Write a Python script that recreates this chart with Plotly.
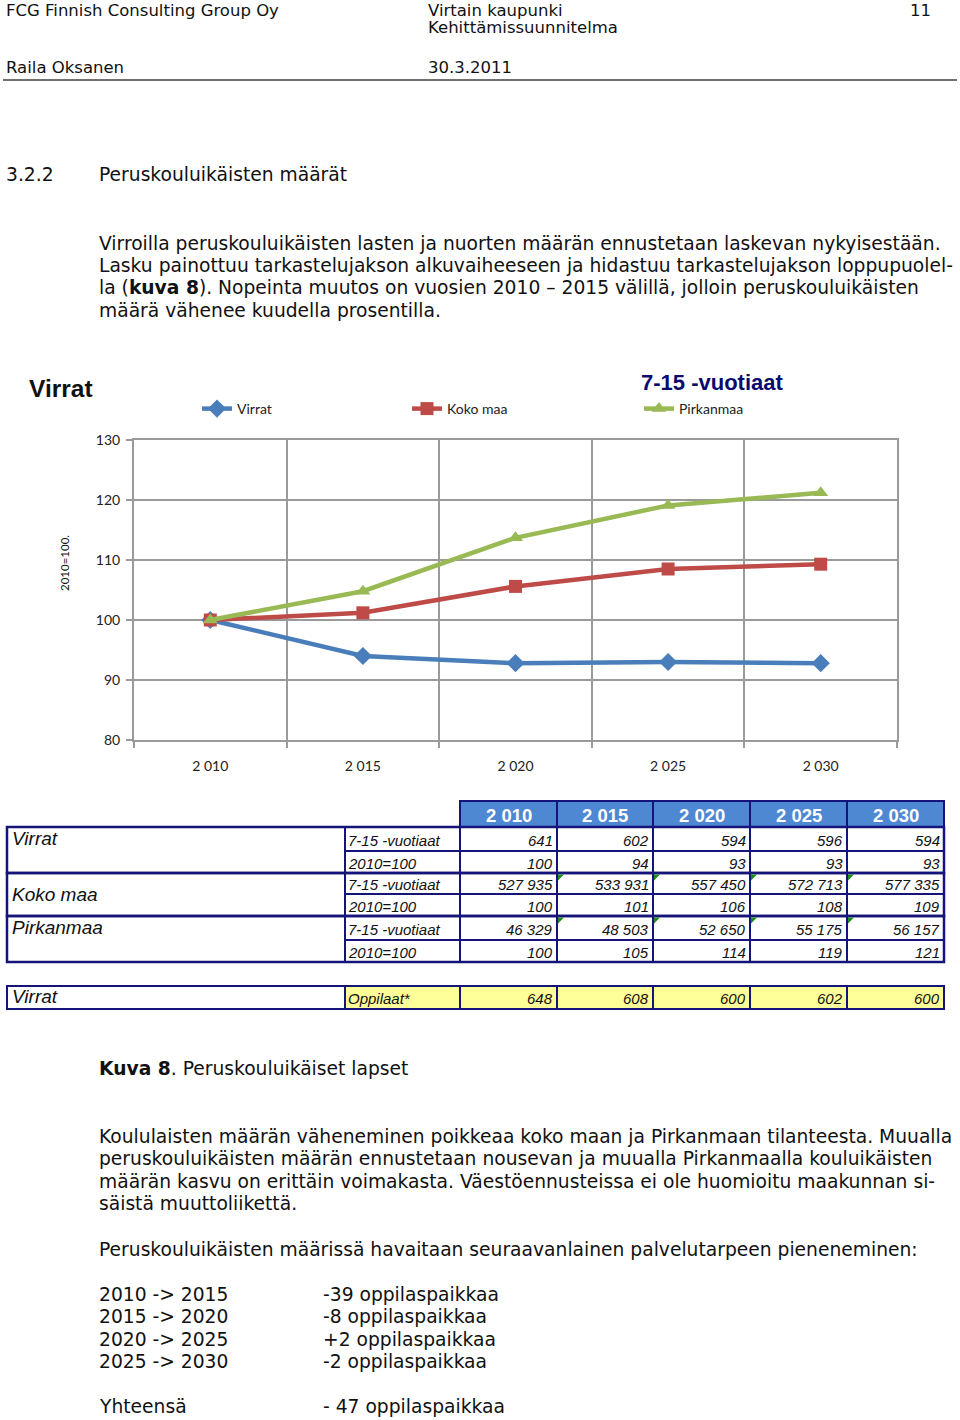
import plotly.graph_objects as go

W, H = 960, 1420


def X(p):
    return p / W


def Y(p):
    return 1 - p / H


# ---------------- data ----------------
years = ["2 010", "2 015", "2 020", "2 025", "2 030"]
series_names = ["Virrat", "Koko maa", "Pirkanmaa"]
idx_virrat = [100, 94.0, 92.8, 93.0, 92.8]
idx_koko = [100, 101.2, 105.6, 108.5, 109.3]
idx_pirk = [100, 104.8, 113.7, 119.1, 121.2]
y_ticks = [80, 90, 100, 110, 120, 130]

cnt_virrat = [641, 602, 594, 596, 594]
cnt_virrat_idx = [100, 94, 93, 93, 93]
cnt_koko = [527935, 533931, 557450, 572713, 577335]
cnt_koko_idx = [100, 101, 106, 108, 109]
cnt_pirk = [46329, 48503, 52650, 55175, 56157]
cnt_pirk_idx = [100, 105, 114, 119, 121]
oppilaat = [648, 608, 600, 602, 600]

periods = ["2010 -> 2015", "2015 -> 2020", "2020 -> 2025", "2025 -> 2030"]
changes = ["-39 oppilaspaikkaa", "-8 oppilaspaikkaa", "+2 oppilaspaikkaa", "-2 oppilaspaikkaa"]
total_label = "Yhteensä"
total_value = "- 47 oppilaspaikkaa"

# ---------------- styles ----------------
GRID = "#9a9a9a"
NAVY = "#14147a"
BLUE_HDR = "#4f88d2"
YELLOW = "#ffff99"
BODY = "DejaVu Sans"
CHART_FONT = "Lato"
TABLE_FONT = "Liberation Sans"
colors = ["#4a7ebb", "#be4b48", "#98b954"]
symbols = ["diamond", "square", "triangle-up"]
legends = ["legend", "legend2", "legend3"]

fig = go.Figure()
xs = list(range(len(years)))
for name, vals, col, sym, leg in zip(series_names, [idx_virrat, idx_koko, idx_pirk], colors, symbols, legends):
    fig.add_trace(go.Scatter(
        x=xs, y=vals, name=name, mode="lines+markers",
        line=dict(color=col, width=4.5),
        marker=dict(symbol=sym, size=13 if sym != "diamond" else 14, color=col),
        legend=leg, hoverinfo="skip"))

annotations = []
shapes = []


def txt(x, y, s, size=18.7, family=BODY, color="#111", anchor="left", angle=0, italic=False):
    annotations.append(dict(
        x=X(x), y=Y(y), xref="paper", yref="paper", text=s, showarrow=False,
        xanchor=anchor, yanchor="middle", textangle=angle, borderpad=0,
        font=dict(family=family, size=size, color=color, style="italic" if italic else "normal")))


# header
HS = 16.5
txt(5, 11, "FCG Finnish Consulting Group Oy", HS)
txt(427, 11, "Virtain kaupunki", HS)
txt(427, 28, "Kehittämissuunnitelma", HS)
txt(909, 11, "11", HS)
txt(5, 67, "Raila Oksanen", HS)
txt(427, 67, "30.3.2011", HS)
shapes.append(dict(type="line", xref="paper", yref="paper", x0=X(3), x1=X(957), y0=Y(80), y1=Y(80),
                   line=dict(color="#707070", width=2)))

# body text
txt(5, 175, "3.2.2")
txt(98, 175, "Peruskouluikäisten määrät")
para1 = [
    "Virroilla peruskouluikäisten lasten ja nuorten määrän ennustetaan laskevan nykyisestään.",
    "Lasku painottuu tarkastelujakson alkuvaiheeseen ja hidastuu tarkastelujakson loppupuolel-",
    "la (<b>kuva 8</b>). Nopeinta muutos on vuosien 2010 – 2015 välillä, jolloin peruskouluikäisten",
    "määrä vähenee kuudella prosentilla.",
]
for i, line in enumerate(para1):
    txt(98, 243 + i * 22.5, line)

txt(98, 1068, "<b>Kuva 8</b>. Peruskouluikäiset lapset")
para2 = [
    "Koululaisten määrän väheneminen poikkeaa koko maan ja Pirkanmaan tilanteesta. Muualla",
    "peruskouluikäisten määrän ennustetaan nousevan ja muualla Pirkanmaalla kouluikäisten",
    "määrän kasvu on erittäin voimakasta. Väestöennusteissa ei ole huomioitu maakunnan si-",
    "säistä muuttoliikettä.",
]
for i, line in enumerate(para2):
    txt(98, 1136 + i * 22.5, line)
txt(98, 1249, "Peruskouluikäisten määrissä havaitaan seuraavanlainen palvelutarpeen pieneneminen:")
for i, (p, c) in enumerate(zip(periods, changes)):
    txt(98, 1294 + i * 22.5, p)
    txt(322, 1294 + i * 22.5, c)
txt(98, 1406, total_label)
txt(322, 1406, total_value)

# chart titles
txt(28, 388, "<b>Virrat</b>", 24.5, "Liberation Sans", "#111")
txt(640, 383, "<b>7-15 -vuotiaat</b>", 22, "Liberation Sans", "#0b0b6e")
txt(64, 563, "2010=100.", 11.5, CHART_FONT, "#111", anchor="center", angle=-90)

# ---------------- table ----------------
col_edges = [7, 345, 460, 557, 653, 750, 847, 944]
row_edges = [827, 851, 873, 894, 916, 940, 962]
hdr_top = 801
t2_top, t2_bot = 986, 1009


def fmt(v):
    return f"{v:,}".replace(",", " ")


def rect(x0, y0, x1, y1, fill="white", lw=2):
    shapes.append(dict(type="rect", xref="paper", yref="paper", x0=X(x0), x1=X(x1), y0=Y(y1), y1=Y(y0),
                       fillcolor=fill, line=dict(color=NAVY, width=lw), layer="below"))


# header row
for j, yr in enumerate(years):
    rect(col_edges[j + 2], hdr_top, col_edges[j + 3], row_edges[0], BLUE_HDR)
    txt((col_edges[j + 2] + col_edges[j + 3]) / 2, (hdr_top + row_edges[0]) / 2 + 1,
        "<b>" + yr + "</b>", 18.5, TABLE_FONT, "white", anchor="center")

groups = [
    ("Virrat", [("7-15 -vuotiaat", cnt_virrat), ("2010=100", cnt_virrat_idx)], "top"),
    ("Koko maa", [("7-15 -vuotiaat", cnt_koko), ("2010=100", cnt_koko_idx)], "middle"),
    ("Pirkanmaa", [("7-15 -vuotiaat", cnt_pirk), ("2010=100", cnt_pirk_idx)], "top"),
]
r = 0
for gname, rows, pos in groups:
    g0, g1 = row_edges[r], row_edges[r + len(rows)]
    rect(col_edges[0], g0, col_edges[1], g1)
    gy = (g0 + g1) / 2 if pos == "middle" else (row_edges[r] + row_edges[r + 1]) / 2 - 1
    txt(11, gy, gname, 19, TABLE_FONT, "#111", italic=True)
    for label, vals in rows:
        y0, y1 = row_edges[r], row_edges[r + 1]
        rect(col_edges[1], y0, col_edges[2], y1)
        txt(347, (y0 + y1) / 2 + 1, label, 15, TABLE_FONT, "#111", italic=True)
        for j, v in enumerate(vals):
            rect(col_edges[j + 2], y0, col_edges[j + 3], y1)
            txt(col_edges[j + 3] - 3, (y0 + y1) / 2 + 1, fmt(v), 15, TABLE_FONT, "#111",
                anchor="right", italic=True)
        r += 1

# outer thick borders around groups
for gi in (0, 2, 4):
    shapes.append(dict(type="rect", xref="paper", yref="paper", x0=X(col_edges[0]), x1=X(col_edges[-1]),
                       y0=Y(row_edges[gi + 2]), y1=Y(row_edges[gi]),
                       line=dict(color=NAVY, width=2.5), layer="below"))

# green comment markers
for ry in (row_edges[2], row_edges[4]):
    for cx in col_edges[3:7]:
        shapes.append(dict(type="path", xref="paper", yref="paper",
                           path=f"M {X(cx + 1)},{Y(ry + 1.5)} L {X(cx + 7)},{Y(ry + 1.5)} L {X(cx + 1)},{Y(ry + 7.5)} Z",
                           fillcolor="#1c8c1c", line=dict(width=0), layer="above"))

# second table
rect(col_edges[0], t2_top, col_edges[1], t2_bot)
txt(11, (t2_top + t2_bot) / 2 - 1, "Virrat", 19, TABLE_FONT, "#111", italic=True)
rect(col_edges[1], t2_top, col_edges[2], t2_bot, YELLOW)
txt(347, (t2_top + t2_bot) / 2 + 1, "Oppilaat*", 15, TABLE_FONT, "#111", italic=True)
for j, v in enumerate(oppilaat):
    rect(col_edges[j + 2], t2_top, col_edges[j + 3], t2_bot, YELLOW)
    txt(col_edges[j + 3] - 3, (t2_top + t2_bot) / 2 + 1, fmt(v), 15, TABLE_FONT, "#111",
        anchor="right", italic=True)

legend_common = dict(orientation="h", xanchor="left", yanchor="middle", bgcolor="rgba(0,0,0,0)",
                     borderwidth=0, font=dict(family=CHART_FONT, size=14, color="#222"))

fig.update_layout(
    width=W, height=H, margin=dict(l=0, r=0, t=0, b=0, pad=0, autoexpand=False),
    paper_bgcolor="white", plot_bgcolor="white", showlegend=True,
    legend=dict(x=X(197), y=Y(409), **legend_common),
    legend2=dict(x=X(407), y=Y(409), **legend_common),
    legend3=dict(x=X(639), y=Y(409), **legend_common),
    xaxis=dict(domain=[X(134), X(897)], range=[-0.5, len(years) - 0.5], tickmode="array",
               tickvals=xs, ticktext=years, showgrid=False, ticks="", zeroline=False,
               showline=True, linecolor=GRID, linewidth=2, mirror=True, automargin=False,
               tickfont=dict(family=CHART_FONT, size=14, color="#222"), ticklabelstandoff=12,
               minor=dict(tickmode="array", tickvals=[i - 0.5 for i in range(len(years) + 1)],
                          showgrid=True, gridcolor=GRID, gridwidth=2, ticks="outside",
                          ticklen=6, tickcolor=GRID, tickwidth=2),
               fixedrange=True),
    yaxis=dict(domain=[Y(740), Y(440)], range=[80, 130], tickmode="array", tickvals=y_ticks,
               showgrid=True, gridcolor=GRID, gridwidth=2, ticks="outside", ticklen=6,
               tickcolor=GRID, tickwidth=2, showline=True, linecolor=GRID, linewidth=2, mirror=True,
               zeroline=False, automargin=False, tickfont=dict(family=CHART_FONT, size=14, color="#222"),
               ticklabelstandoff=3, fixedrange=True),
    annotations=annotations, shapes=shapes,
)

fig.write_html("out.html",
               post_script="document.body.style.margin='0';document.body.style.padding='0';"
                           "document.documentElement.style.overflow='hidden';")
